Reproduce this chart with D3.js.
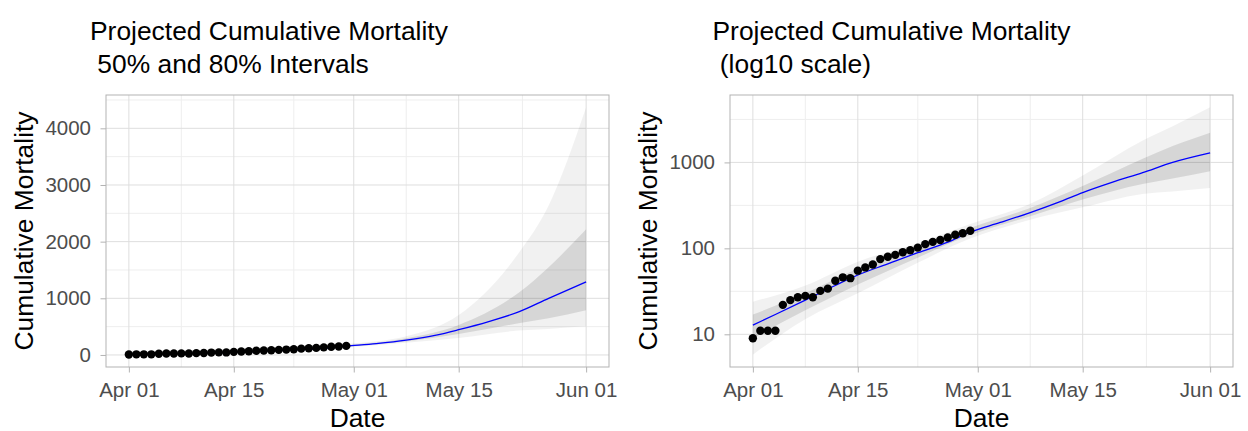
<!DOCTYPE html>
<html>
<head>
<meta charset="utf-8">
<script src="https://cdn.jsdelivr.net/npm/d3@7"></script>
<style>
body { margin: 0; background: #fff; }
text { font-family: "Liberation Sans", Arial, sans-serif; }
</style>
</head>
<body>
<svg id="chart" width="1248" height="431"></svg>
<script>
const parse = d3.timeParse("%Y-%m-%d");

// observed cumulative deaths, one per day from Apr 01 to Apr 30
const obsStart = "2020-04-01";
const observed = [9, 11, 11, 11, 22, 25, 27, 28, 27, 32, 34, 42, 46, 45, 55,
                  60, 65, 75, 80, 84, 90, 95, 102, 112, 119, 125, 134, 144, 150, 160];

// projected median
const medDates = ["2020-04-01", "2020-04-04", "2020-04-08", "2020-04-12", "2020-04-15", "2020-04-19",
                  "2020-04-23", "2020-04-27", "2020-04-30", "2020-05-04", "2020-05-08", "2020-05-12",
                  "2020-05-15", "2020-05-19", "2020-05-23", "2020-05-27", "2020-06-01"];
const median = [12.8, 17, 25, 37, 49, 66, 89, 118, 155, 200, 261, 350, 446, 590, 760, 1000, 1290];

// 50% and 80% intervals
const bandDates = ["2020-04-01", "2020-04-08", "2020-04-15", "2020-04-23", "2020-04-30",
                   "2020-05-08", "2020-05-15", "2020-05-23", "2020-05-27", "2020-06-01"];
const lo80 = [5.8, 15, 30, 68, 130, 215, 300, 430, 460, 505];
const hi80 = [24, 37, 70, 115, 192, 330, 705, 1800, 2640, 4370];
const lo50 = [9, 19, 38, 78, 143, 237, 370, 560, 650, 790];
const hi50 = [17, 30, 58, 100, 172, 295, 530, 1100, 1550, 2220];

const xTickLabels = ["2020-04-01", "2020-04-15", "2020-05-01", "2020-05-15", "2020-06-01"];
const yTicksLinear = [0, 1000, 2000, 3000, 4000];
const yTicksLog = [10, 100, 1000];

const obs = observed.map((v, i) => ({ date: d3.timeDay.offset(parse(obsStart), i), value: v }));
const med = medDates.map((d, i) => ({ date: parse(d), value: median[i] }));
const band = bandDates.map((d, i) => ({ date: parse(d), lo80: lo80[i], hi80: hi80[i], lo50: lo50[i], hi50: hi50[i] }));

const svg = d3.select("#chart");
svg.append("rect").attr("width", 1248).attr("height", 431).attr("fill", "#fff");

const panels = [
  { left: 106, top: 95, right: 609, bottom: 367, log: false,
    title: ["Projected Cumulative Mortality", " 50% and 80% Intervals"], titleX: 90, yTitleX: 33 },
  { left: 730, top: 95, right: 1233, bottom: 367, log: true,
    title: ["Projected Cumulative Mortality", " (log10 scale)"], titleX: 712.5, yTitleX: 657 }
];

function midpoints(arr) {
  const out = [];
  for (let i = 0; i < arr.length - 1; i++) out.push((arr[i] + arr[i + 1]) / 2);
  return out;
}

panels.forEach(p => {
  const g = svg.append("g");

  // x scale, 5% padding like ggplot
  const allDates = obs.map(d => d.date).concat(band.map(d => d.date), med.map(d => d.date));
  const xExt = d3.extent(allDates).map(d => +d);
  const xPad = (xExt[1] - xExt[0]) * 0.05;
  const x = d3.scaleTime()
    .domain([new Date(xExt[0] - xPad), new Date(xExt[1] + xPad)])
    .range([p.left, p.right]);

  const allVals = observed.concat(median, lo80, hi80, lo50, hi50);
  let y, yTicks, yMinor;
  if (p.log) {
    const e = d3.extent(allVals).map(Math.log10);
    const pad = (e[1] - e[0]) * 0.05;
    y = d3.scaleLog().domain([Math.pow(10, e[0] - pad), Math.pow(10, e[1] + pad)]).range([p.bottom, p.top]);
    yTicks = yTicksLog;
    const lt = [0].concat(yTicksLog.map(Math.log10), [4]);
    yMinor = midpoints(lt).map(v => Math.pow(10, v));
  } else {
    const e = d3.extent(allVals);
    const pad = (e[1] - e[0]) * 0.05;
    y = d3.scaleLinear().domain([e[0] - pad, e[1] + pad]).range([p.bottom, p.top]);
    yTicks = yTicksLinear;
    yMinor = midpoints([-1000].concat(yTicksLinear, [5000]));
  }
  const yd = y.domain();
  yMinor = yMinor.filter(v => v > yd[0] && v < yd[1]);

  const xMajor = xTickLabels.map(parse);
  const xMinor = midpoints(xMajor.map(d => +d)).map(v => new Date(v));

  // grid
  g.selectAll(".xminor").data(xMinor).join("line")
    .attr("x1", d => x(d)).attr("x2", d => x(d)).attr("y1", p.top).attr("y2", p.bottom)
    .attr("stroke", "#eeeeee").attr("stroke-width", 1);
  g.selectAll(".yminor").data(yMinor).join("line")
    .attr("x1", p.left).attr("x2", p.right).attr("y1", d => y(d)).attr("y2", d => y(d))
    .attr("stroke", "#eeeeee").attr("stroke-width", 1);
  g.selectAll(".xmajor").data(xMajor).join("line")
    .attr("x1", d => x(d)).attr("x2", d => x(d)).attr("y1", p.top).attr("y2", p.bottom)
    .attr("stroke", "#dedede").attr("stroke-width", 1);
  g.selectAll(".ymajor").data(yTicks).join("line")
    .attr("x1", p.left).attr("x2", p.right).attr("y1", d => y(d)).attr("y2", d => y(d))
    .attr("stroke", "#dedede").attr("stroke-width", 1);

  // interval ribbons
  const area80 = d3.area().curve(d3.curveMonotoneX)
    .x(d => x(d.date)).y0(d => y(d.lo80)).y1(d => y(d.hi80));
  const area50 = d3.area().curve(d3.curveMonotoneX)
    .x(d => x(d.date)).y0(d => y(d.lo50)).y1(d => y(d.hi50));
  g.append("path").datum(band).attr("d", area80).attr("fill", "#000").attr("fill-opacity", 0.055);
  g.append("path").datum(band).attr("d", area50).attr("fill", "#000").attr("fill-opacity", 0.11);

  // median
  const line = d3.line().curve(d3.curveMonotoneX).x(d => x(d.date)).y(d => y(d.value));
  g.append("path").datum(med).attr("d", line)
    .attr("fill", "none").attr("stroke", "#0000ff").attr("stroke-width", 1.3);

  // observed points
  g.selectAll(".pt").data(obs).join("circle")
    .attr("cx", d => x(d.date)).attr("cy", d => y(d.value)).attr("r", 4.2).attr("fill", "#000");

  // border
  g.append("rect").attr("x", p.left).attr("y", p.top)
    .attr("width", p.right - p.left).attr("height", p.bottom - p.top)
    .attr("fill", "none").attr("stroke", "#b3b3b3").attr("stroke-width", 1);

  // axes
  const xAxis = g.append("g").attr("transform", `translate(0,${p.bottom})`)
    .call(d3.axisBottom(x).tickValues(xMajor).tickFormat(d3.timeFormat("%b %d")).tickSize(5.5).tickPadding(10));
  const yAxis = g.append("g").attr("transform", `translate(${p.left},0)`)
    .call(d3.axisLeft(y).tickValues(yTicks).tickFormat(d3.format("d")).tickSize(5.5).tickPadding(9.5));
  [xAxis, yAxis].forEach(a => {
    a.select(".domain").remove();
    a.selectAll("line").attr("stroke", "#b3b3b3");
    a.selectAll("text").attr("fill", "#4d4d4d").style("font-size", "20.5px")
      .style("font-family", '"Liberation Sans", Arial, sans-serif');
  });

  // titles
  g.append("text").attr("x", (p.left + p.right) / 2).attr("y", 426.5)
    .attr("text-anchor", "middle").style("font-size", "26.4px").attr("fill", "#000").text("Date");
  g.append("text").attr("transform", `translate(${p.yTitleX},${(p.top + p.bottom) / 2}) rotate(-90)`)
    .attr("text-anchor", "middle").style("font-size", "26.4px").attr("fill", "#000").text("Cumulative Mortality");
  p.title.forEach((t, i) => {
    g.append("text").attr("x", p.titleX).attr("y", 39.5 + i * 33.3)
      .attr("xml:space", "preserve").style("white-space", "pre")
      .style("font-size", "26.4px").attr("fill", "#000").text(t);
  });
});
</script>
</body>
</html>
